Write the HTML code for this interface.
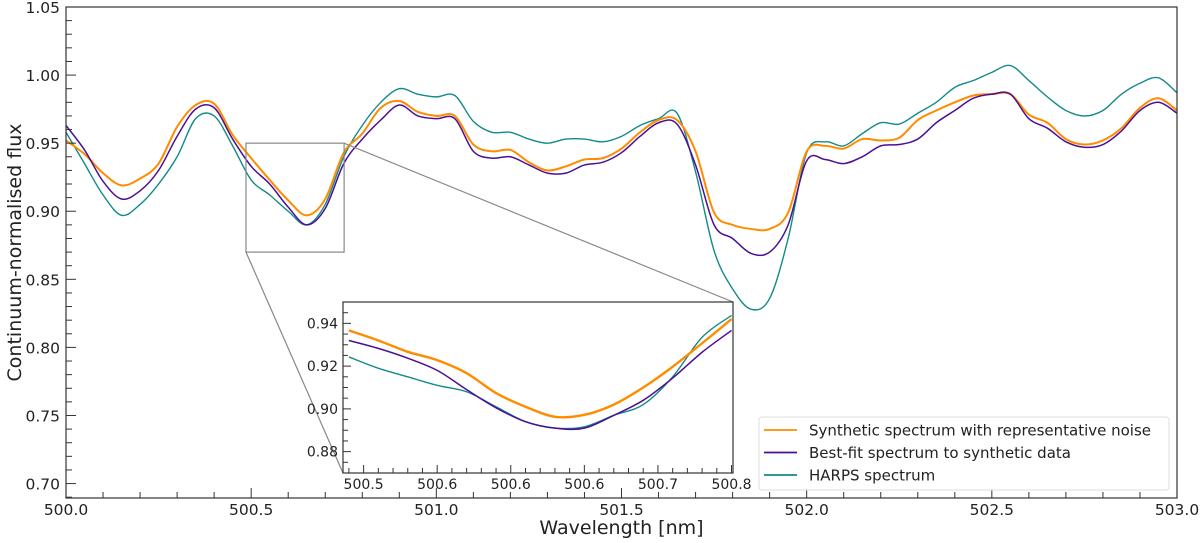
<!DOCTYPE html>
<html><head><meta charset="utf-8">
<style>
html,body{margin:0;padding:0;background:#fff;}
svg{display:block;font-family:"DejaVu Sans","Liberation Sans",sans-serif;}
</style></head>
<body>
<svg id="chart" width="1200" height="543" viewBox="0 0 1200 543" xmlns="http://www.w3.org/2000/svg">
<g id="main"></g>
<g id="inset"></g>
<g id="legend"></g>
</svg>
<script>
// ---- data ----
const wavelengths = [];
for (let i = 0; i <= 60; i++) wavelengths.push(500 + i * 0.05);
const syntheticFlux = [0.952,0.942,0.928,0.919,0.924,0.935,0.962,0.978,0.979,0.956,0.939,0.923,0.908,0.897,0.909,0.943,
0.957,0.976,0.981,0.973,0.970,0.970,0.949,0.944,0.945,0.936,0.930,0.933,0.938,0.939,0.946,0.958,0.967,0.967,0.944,0.899,0.890,0.887,0.887,0.899,0.944,0.948,0.946,0.953,0.952,0.954,0.967,0.974,0.980,0.985,0.986,0.986,0.971,0.965,0.953,0.949,0.952,0.961,0.976,0.983,0.974];
const bestFitFlux = [0.963,0.945,0.922,0.909,0.915,0.930,0.955,0.975,0.976,0.953,0.933,0.920,0.903,0.890,0.902,0.935,
0.953,0.967,0.978,0.970,0.968,0.968,0.944,0.939,0.940,0.934,0.928,0.928,0.934,0.936,0.943,0.955,0.965,0.964,0.934,0.890,0.880,0.869,0.870,0.890,0.937,0.938,0.935,0.940,0.948,0.949,0.953,0.965,0.974,0.983,0.986,0.986,0.968,0.961,0.951,0.947,0.949,0.959,0.974,0.980,0.972];
const harpsFlux = [0.958,0.935,0.912,0.897,0.905,0.920,0.940,0.968,0.970,0.948,0.923,0.912,0.900,0.890,0.905,0.940,
0.963,0.980,0.990,0.986,0.984,0.985,0.966,0.958,0.958,0.953,0.950,0.953,0.953,0.951,0.955,0.963,0.968,0.972,0.929,0.871,0.843,0.828,0.836,0.880,0.943,0.951,0.948,0.957,0.965,0.964,0.972,0.980,0.991,0.996,1.002,1.007,0.996,0.984,0.974,0.970,0.974,0.986,0.994,0.998,0.987];
const insetWavelengths = [500.49,500.51,500.53,500.55,500.57,500.59,500.61,500.63,500.65,500.67,500.69,500.71,500.73,500.75];
const insetSynthetic = [0.9367,0.932,0.9267,0.9228,0.9167,0.9074,0.901,0.8963,0.8972,0.902,0.910,0.9197,0.9307,0.942];
const insetBestFit = [0.932,0.9283,0.9237,0.918,0.909,0.9005,0.894,0.891,0.891,0.897,0.904,0.9144,0.9265,0.9367];
const insetHarps = [0.9243,0.919,0.915,0.911,0.908,0.901,0.894,0.891,0.8916,0.897,0.902,0.915,0.9335,0.9437];
const xTickLabels = ["500.0","500.5","501.0","501.5","502.0","502.5","503.0"];
const yTickLabels = ["0.70","0.75","0.80","0.85","0.90","0.95","1.00","1.05"];
const insetXTickLabels = ["500.5","500.6","500.6","500.6","500.7","500.8"];
const insetYTickLabels = ["0.88","0.90","0.92","0.94"];
const seriesNames = ["Synthetic spectrum with representative noise","Best-fit spectrum to synthetic data","HARPS spectrum"];

const NS="http://www.w3.org/2000/svg";
const COL={orange:"#ff8c00",purple:"#4b0f96",teal:"#138a8a"};
function mk(tag,attrs,parent){const e=document.createElementNS(NS,tag);for(const k in attrs)e.setAttribute(k,attrs[k]);parent.appendChild(e);return e;}

const M={l:66,r:1177,t:7,b:498,x0:500,x1:503,y0:0.6894,y1:1.05};
const X=v=>M.l+(v-M.x0)/(M.x1-M.x0)*(M.r-M.l);
const Y=v=>M.b-(v-M.y0)/(M.y1-M.y0)*(M.b-M.t);
const I={l:343,r:733,t:302,b:473,x0:500.486,x1:500.751,y0:0.87,y1:0.95};
const IX=v=>I.l+(v-I.x0)/(I.x1-I.x0)*(I.r-I.l);
const IY=v=>I.b-(v-I.y0)/(I.y1-I.y0)*(I.b-I.t);

function smoothPath(xs,ys,fx,fy){
  const p=xs.map((x,i)=>[fx(x),fy(ys[i])]);
  let d=`M${p[0][0].toFixed(2)},${p[0][1].toFixed(2)}`;
  for(let i=0;i<p.length-1;i++){
    const p0=p[i-1]||p[i],p1=p[i],p2=p[i+1],p3=p[i+2]||p2;
    const c1=[p1[0]+(p2[0]-p0[0])/6,p1[1]+(p2[1]-p0[1])/6];
    const c2=[p2[0]-(p3[0]-p1[0])/6,p2[1]-(p3[1]-p1[1])/6];
    d+=`C${c1[0].toFixed(2)},${c1[1].toFixed(2)} ${c2[0].toFixed(2)},${c2[1].toFixed(2)} ${p2[0].toFixed(2)},${p2[1].toFixed(2)}`;
  }
  return d;
}

const main=document.getElementById('main');
const ms=[[harpsFlux,COL.teal,1.4,'harps-line'],[syntheticFlux,COL.orange,2,'synthetic-line'],[bestFitFlux,COL.purple,1.5,'best-fit-line']];
ms.forEach(s=>{
  const p=mk('path',{d:smoothPath(wavelengths,s[0],X,Y),fill:'none',stroke:s[1],'stroke-width':s[2],'stroke-linejoin':'round'},main);
  
  
});
const fr=mk('rect',{x:M.l,y:M.t,width:M.r-M.l,height:M.b-M.t,fill:'none',stroke:'#333','stroke-width':1.2},main);


for(let i=0;i<=30;i++){const v=500+i*0.1,x=X(v),major=i%5===0;
  mk('line',{x1:x,x2:x,y1:M.b,y2:M.b-(major?10:6),stroke:'#333','stroke-width':1},main);}
xTickLabels.forEach((t,i)=>{const v=500+i*0.5;
  const e=mk('text',{x:X(v),y:M.b+17,'text-anchor':'middle','font-size':15.5,fill:'#222'},main);e.textContent=t;
  
  });
for(let i=0;i<=36;i++){const v=0.70+i*0.01-0.01;if(v<M.y0)continue;const y=Y(v),major=Math.round(v*100)%5===0;
  mk('line',{x1:M.l,x2:M.l+(major?10:6),y1:y,y2:y,stroke:'#333','stroke-width':1},main);}
yTickLabels.forEach((t,i)=>{const v=0.70+i*0.05;
  const e=mk('text',{x:M.l-6,y:Y(v)+6,'text-anchor':'end','font-size':15.5,fill:'#222'},main);e.textContent=t;
  
  });
const xt=mk('text',{x:(M.l+M.r)/2,y:534,'text-anchor':'middle','font-size':19,fill:'#222'},main);xt.textContent='Wavelength [nm]';


const yt=mk('text',{x:0,y:0,'text-anchor':'middle','font-size':19,fill:'#222',transform:`translate(21,${(M.t+M.b)/2}) rotate(-90)`},main);yt.textContent='Continuum-normalised flux';



const bx0=X(I.x0),bx1=X(I.x1),by0=Y(I.y1),by1=Y(I.y0);
const zb=mk('rect',{x:bx0,y:by0,width:bx1-bx0,height:by1-by0,fill:'none',stroke:'#888','stroke-width':1.2},main);


const c1=mk('line',{x1:bx0,y1:by1,x2:I.l,y2:I.b,stroke:'#888','stroke-width':1.2},main);


const c2=mk('line',{x1:bx1,y1:by0,x2:I.r,y2:I.t,stroke:'#888','stroke-width':1.2},main);



const ins=document.getElementById('inset');
mk('rect',{x:I.l,y:I.t,width:I.r-I.l,height:I.b-I.t,fill:'#fff',stroke:'none'},ins);
const clip=mk('clipPath',{id:'ic'},ins);mk('rect',{x:I.l,y:I.t,width:I.r-I.l,height:I.b-I.t},clip);
const ig=mk('g',{'clip-path':'url(#ic)'},ins);
[[insetHarps,COL.teal,1.4,'inset-harps-line'],[insetSynthetic,COL.orange,2.4,'inset-synthetic-line'],[insetBestFit,COL.purple,1.5,'inset-best-fit-line']].forEach(s=>{
  const p=mk('path',{d:smoothPath(insetWavelengths,s[0],IX,IY),fill:'none',stroke:s[1],'stroke-width':s[2]},ig);
  
  
});
const ifr=mk('rect',{x:I.l,y:I.t,width:I.r-I.l,height:I.b-I.t,fill:'none',stroke:'#333','stroke-width':1.2},ins);


for(let i=49;i<=75;i++){const v=500+i*0.01;if(v<I.x0||v>I.x1)continue;const x=IX(v),major=i%5===0;
  mk('line',{x1:x,x2:x,y1:I.b,y2:I.b-(major?8:5),stroke:'#333','stroke-width':1},ins);}
insetXTickLabels.forEach((t,i)=>{const v=500.5+i*0.05;
  const e=mk('text',{x:IX(v),y:I.b+16,'text-anchor':'middle','font-size':14,fill:'#222'},ins);e.textContent=t;
  
  });
for(let i=0;i<=16;i++){const v=0.87+i*0.005;const y=IY(v),major=i%4===2;
  mk('line',{x1:I.l,x2:I.l+(major?8:5),y1:y,y2:y,stroke:'#333','stroke-width':1},ins);}
insetYTickLabels.forEach((t,i)=>{const v=0.88+i*0.02;
  const e=mk('text',{x:I.l-5,y:IY(v)+5,'text-anchor':'end','font-size':14,fill:'#222'},ins);e.textContent=t;
  
  });

const lg=document.getElementById('legend');
mk('rect',{x:759,y:417,width:410,height:73,rx:3,fill:'#fff','fill-opacity':0.9,stroke:'#ddd','stroke-width':1},lg);
[COL.orange,COL.purple,COL.teal].forEach((c,i)=>{const y=430+i*22.5;
  const ln=mk('line',{x1:764,x2:797,y1:y,y2:y,stroke:c,'stroke-width':1.8},lg);
  
  
  const t=mk('text',{x:809,y:y+5.5,'font-size':15,fill:'#222'},lg);t.textContent=seriesNames[i];
  
  });
</script>
</body></html>
